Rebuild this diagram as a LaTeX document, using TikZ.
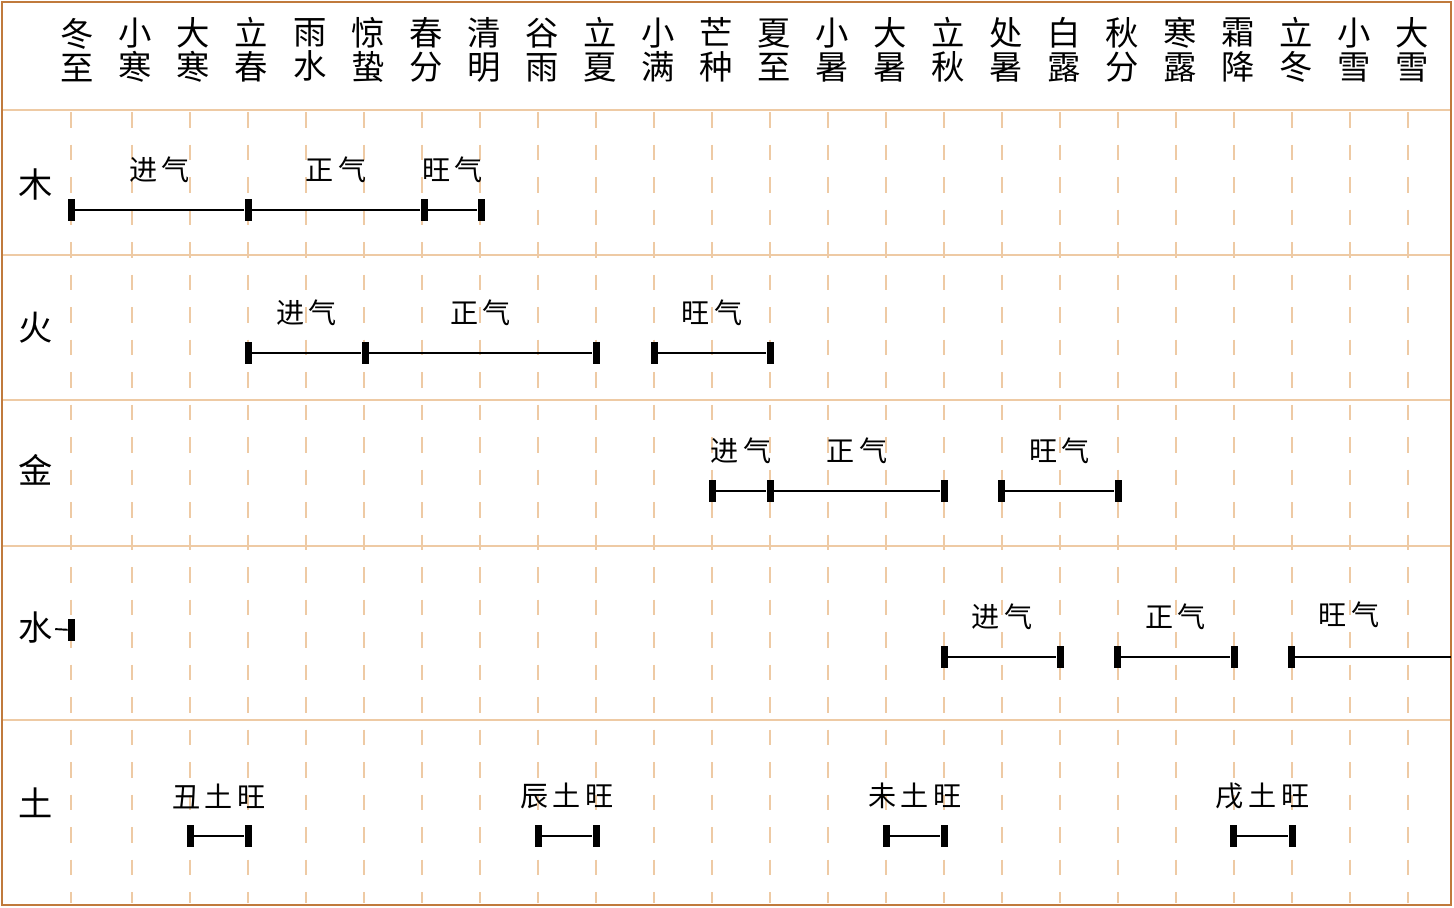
\documentclass[tikz,border=0pt]{standalone}
\usepackage{fontspec}
\setmainfont{Noto Sans CJK SC}
\usepackage{tikz}
\usetikzlibrary{positioning}
\definecolor{FrameBrown}{RGB}{192,122,60}
\definecolor{GridTan}{RGB}{238,202,164}

\begin{document}
\begin{tikzpicture}[x=0.02cm, y=-0.02cm,
            term/.style={align=center, inner sep=0pt, font=\fontsize{19pt}{19.4pt}\selectfont},
            elem/.style={inner sep=1pt, font=\fontsize{19.5pt}{20pt}\selectfont},
            endcap/.style={fill=black, inner sep=0pt, minimum width=0.14cm, minimum height=0.44cm},
            qi/.style={inner sep=0pt, yshift=0.8cm, font=\fontsize{16pt}{16pt}\selectfont},
            bar/.style={line width=1.1pt}
        ]
        \useasboundingbox (0,0) rectangle (1454,907);

        % The Grid
        \foreach \y in {110,255,400,546,720}
            \draw[GridTan, line width=1.2pt] (2,\y) -- (1451,\y);
        \foreach \x in {71,132,190,...,1408}
            \draw[GridTan, line width=1.1pt, dash pattern=on 9pt off 9.5pt] (\x,112) -- (\x,903);
        \draw[FrameBrown, line width=1.5pt] (2,2) rectangle (1451,905);

        % Solar terms
        \foreach \a/\b [count=\i from 0] in {冬/至,小/寒,大/寒,立/春,雨/水,惊/蛰,春/分,清/明,谷/雨,立/夏,小/满,芒/种,夏/至,小/暑,大/暑,立/秋,处/暑,白/露,秋/分,寒/露,霜/降,立/冬,小/雪,大/雪}
            \node[term] (jq\i) at ({77.5+58.05*\i},50) {\a\\\b};

        % Elements
        \node[elem] (mu) at (36,184) {木};
        \node[elem] (huo) at (36,328) {火};
        \node[elem] (jin) at (36,470) {金};
        \node[elem] (shui) at (36,628) {水};
        \node[elem] (tu) at (36,803) {土};

        % Wood
        \node[endcap] (m0) at (71,210) {};
        \node[endcap] (m1) at (248,210) {};
        \node[endcap] (m2) at (424,210) {};
        \node[endcap] (m3) at (481,210) {};
        \draw[bar] (m0) -- node[qi] (mJ) {进\,气} (m1) -- node[qi] (mZ) {正\,气} (m2) -- node[qi] (mW) {旺\,气} (m3);

        % Fire
        \node[endcap] (h0) at (248,353) {};
        \node[endcap] (h1) at (365,353) {};
        \node[endcap] (h2) at (596,353) {};
        \node[endcap] (h3) at (654,353) {};
        \node[endcap] (h4) at (770,353) {};
        \draw[bar] (h0) -- node[qi] (hJ) {进\,气} (h1) -- node[qi] (hZ) {正\,气} (h2);
        \draw[bar] (h3) -- node[qi] (hW) {旺\,气} (h4);

        % Metal
        \node[endcap] (j0) at (712,491) {};
        \node[endcap] (j1) at (770,491) {};
        \node[endcap] (j2) at (944,491) {};
        \node[endcap] (j3) at (1001,491) {};
        \node[endcap] (j4) at (1118,491) {};
        \draw[bar] (j0) -- node[qi] (jJ) {进\,气} (j1) -- node[qi] (jZ) {正\,气} (j2);
        \draw[bar] (j3) -- node[qi] (jW) {旺\,气} (j4);

        % Water
        \node[endcap] (s0) at (71.5,630) {};
        \draw[bar] (shui) -- (s0);
        \node[endcap] (s1) at (944,657) {};
        \node[endcap] (s2) at (1060,657) {};
        \node[endcap] (s3) at (1117,657) {};
        \node[endcap] (s4) at (1234,657) {};
        \node[endcap] (s5) at (1291,657) {};
        \coordinate (sEnd) at (1451,657);
        \draw[bar] (s1) -- node[qi] (sJ) {进\,气} (s2);
        \draw[bar] (s3) -- node[qi] (sZ) {正\,气} (s4);
        \draw[bar] (s5) -- (sEnd);
        \node[qi, yshift=-0.8cm] (sW) at (1349,615) {旺\,气};

        % Earth
        \node[endcap] (t0) at (190,836) {};
        \node[endcap] (t1) at (248,836) {};
        \node[endcap] (t2) at (538,836) {};
        \node[endcap] (t3) at (596,836) {};
        \node[endcap] (t4) at (886,836) {};
        \node[endcap] (t5) at (944,836) {};
        \node[endcap] (t6) at (1233,836) {};
        \node[endcap] (t7) at (1292,836) {};
        \draw[bar] (t0) -- node[qi] (tChou) {丑\,土\,旺} (t1);
        \draw[bar] (t2) -- node[qi] (tChen) {辰\,土\,旺} (t3);
        \draw[bar] (t4) -- node[qi] (tWei) {未\,土\,旺} (t5);
        \draw[bar] (t6) -- node[qi] (tXu) {戌\,土\,旺} (t7);

        \end{tikzpicture}
\end{document}
